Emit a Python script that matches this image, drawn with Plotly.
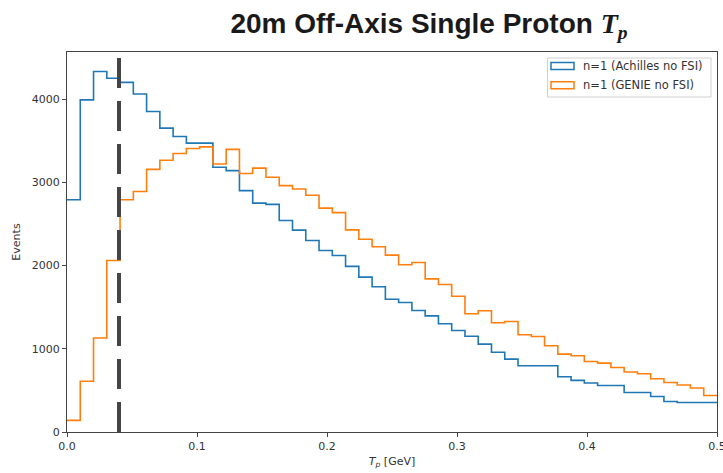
import numpy as np
import plotly.graph_objects as go

# ---------------- data ----------------
bin_lo = 0.0
bin_hi = 0.5
n_bins = 49

achilles_counts = [
    2790, 3990, 4330, 4250, 4200, 4060, 3850, 3650, 3550, 3470,
    3470, 3180, 3140, 2900, 2750, 2735, 2540, 2425, 2300, 2180,
    2120, 1990, 1860, 1745, 1595, 1555, 1460, 1395, 1300, 1220,
    1150, 1056, 958, 876, 796, 796, 796, 664, 620, 588,
    559, 559, 475, 475, 427, 367, 355, 355, 355,
]
genie_counts = [
    140, 610, 1130, 2060, 2790, 2890, 3155, 3265, 3345, 3405,
    3425, 3220, 3395, 3105, 3170, 3060, 2960, 2920, 2845, 2690,
    2635, 2428, 2315, 2226, 2125, 2010, 2036, 1840, 1772, 1630,
    1420, 1456, 1312, 1327, 1168, 1147, 1036, 936, 916, 847,
    828, 775, 720, 700, 640, 595, 564, 528, 439,
]
series_names = ["n=1 (Achilles no FSI)", "n=1 (GENIE no FSI)"]
series_colors = ["#1f77b4", "#ff7f0e"]

cut_x = 0.04
y_max = 4565

x_tick_vals = [0.0, 0.1, 0.2, 0.3, 0.4, 0.5]
x_tick_text = ["0.0", "0.1", "0.2", "0.3", "0.4", "0.5"]
y_tick_vals = [0, 1000, 2000, 3000, 4000]
y_tick_text = ["0", "1000", "2000", "3000", "4000"]

# ---------------- figure ----------------
edges = np.linspace(bin_lo, bin_hi, n_bins + 1)


def step_xy(counts):
    xs = list(edges[:-1]) + [edges[-1]]
    ys = list(counts) + [counts[-1]]
    return xs, ys


fig = go.Figure()
for counts, name, col in zip([achilles_counts, genie_counts], series_names, series_colors):
    xs, ys = step_xy(counts)
    fig.add_trace(go.Scatter(
        x=xs, y=ys, mode="lines", name=name, showlegend=False,
        line=dict(color=col, width=1.6, shape="hv"),
        hoverinfo="skip",
    ))

fig.add_trace(go.Scatter(
    x=[cut_x, cut_x], y=[0, y_max], mode="lines", showlegend=False,
    line=dict(color="#454545", width=4, dash="30px,13px"),
    hoverinfo="skip",
))

axis_col = "#444444"
tick_font = dict(family="DejaVu Sans", size=11, color="#333333")

fig.update_xaxes(
    range=[bin_lo, bin_hi], tickvals=x_tick_vals, ticktext=x_tick_text,
    showline=True, mirror=True, linecolor=axis_col, linewidth=1.3,
    ticks="outside", ticklen=4, tickwidth=1, tickcolor=axis_col,
    showgrid=False, zeroline=False, tickfont=tick_font,
    ticklabeloverflow="allow", automargin=False,
    title=dict(text="<i>T</i><sub><i>p</i></sub> [GeV]",
               font=dict(family="DejaVu Sans", size=11, color="#333333"),
               standoff=4),
)
fig.update_yaxes(
    range=[0, y_max], tickvals=y_tick_vals, ticktext=y_tick_text,
    showline=True, mirror=True, linecolor=axis_col, linewidth=1.3,
    ticks="outside", ticklen=4, tickwidth=1, tickcolor=axis_col,
    showgrid=False, zeroline=False, tickfont=tick_font, automargin=False,
    title=dict(text="Events",
               font=dict(family="DejaVu Sans", size=11, color="#333333"),
               standoff=8),
)

# ---------------- legend (matplotlib-style patches) ----------------
L, R, T, B = 67, 6, 52, 41
W, H = 723, 473
pw, ph = W - L - R, H - T - B


def px(xp):
    return (xp - L) / pw


def py(yp):
    return (H - B - yp) / ph


shapes = [
    dict(type="rect", xref="paper", yref="paper",
         x0=px(547.5), x1=px(711), y0=py(97), y1=py(58),
         line=dict(color="#d0d0d0", width=1), fillcolor="rgba(255,255,255,0.85)",
         layer="above"),
]
annotations = []
row_y = [66, 85.3]
for name, col, ry in zip(series_names, series_colors, row_y):
    shapes.append(dict(type="rect", xref="paper", yref="paper",
                       x0=px(551), x1=px(574), y0=py(ry + 3.5), y1=py(ry - 3.5),
                       line=dict(color=col, width=1.5), fillcolor="rgba(0,0,0,0)",
                       layer="above"))
    annotations.append(dict(xref="paper", yref="paper", x=px(581), y=py(ry),
                            xanchor="left", yanchor="middle", showarrow=False,
                            text=name,
                            font=dict(family="DejaVu Sans", size=11.5, color="#333333")))

fig.update_layout(
    width=W, height=H,
    margin=dict(l=L, r=R, t=T, b=B, autoexpand=False),
    paper_bgcolor="white", plot_bgcolor="white",
    shapes=shapes, annotations=annotations,
    showlegend=False,
    title=dict(
        text="<b>20m Off-Axis Single Proton </b>"
             "<span style=\"font-family:Liberation Serif\"><b><i>T</i><sub><i>p</i></sub></b></span>",
        x=429 / W, xanchor="center", xref="container",
        y=1 - 23 / H, yanchor="middle", yref="container",
        font=dict(family="Liberation Sans", size=28, color="#1a1a1a"),
    ),
)

fig.write_html("out.html")
